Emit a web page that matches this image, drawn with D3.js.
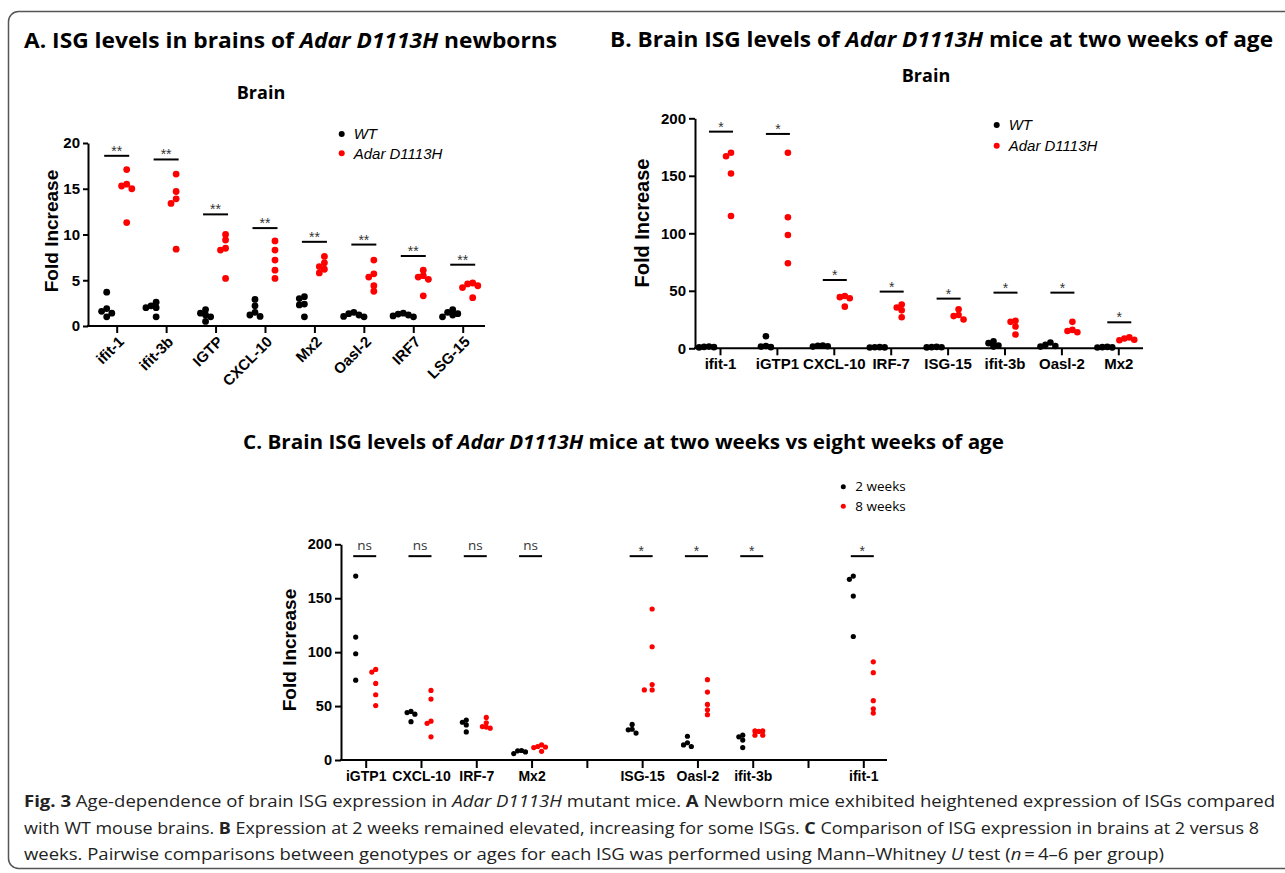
<!DOCTYPE html>
<html>
<head>
<meta charset="utf-8">
<script src="https://cdn.jsdelivr.net/npm/d3@7"></script>
<style>
  body { margin: 0; background: #fff; }
  svg text { font-family: "Liberation Sans", Arial, sans-serif; }
  .cal { font-family: "Open Sans", "Noto Sans", sans-serif !important; }
</style>
</head>
<body>
<svg id="fig" width="1285" height="873"></svg>
<script>
// ---- Panel A: newborn brains, WT vs Adar D1113H
var genesA = ["ifit-1", "ifit-3b", "IGTP", "CXCL-10", "Mx2", "Oasl-2", "IRF7", "LSG-15"];
var wtA = [
  [3.7, 1.9, 1.6, 1.4, 1.0],
  [2.6, 2.2, 2.0, 2.0, 1.0],
  [1.8, 1.4, 1.2, 1.0, 0.5],
  [2.9, 2.2, 1.5, 1.2, 1.05],
  [3.2, 3.0, 2.4, 2.3, 1.0],
  [1.5, 1.35, 1.2, 1.05, 1.0],
  [1.4, 1.3, 1.2, 1.1, 1.0],
  [1.8, 1.5, 1.35, 1.2, 1.0]
];
var mutA = [
  [17.1, 15.5, 15.3, 15.0, 11.3],
  [16.6, 14.7, 13.9, 13.4, 8.4],
  [10.0, 9.4, 8.5, 8.3, 5.2],
  [9.3, 8.3, 7.2, 6.1, 5.2],
  [7.6, 6.9, 6.5, 6.2, 5.8],
  [7.2, 5.7, 5.35, 4.4, 3.8],
  [6.1, 5.5, 5.35, 5.1, 3.3],
  [4.7, 4.6, 4.4, 4.2, 3.1]
];
var sigA = [18.6, 18.2, 12.2, 10.7, 9.2, 8.9, 7.65, 6.7];
var ticksA = [0, 5, 10, 15, 20];

// ---- Panel B: two weeks of age
var genesB = ["ifit-1", "iGTP1", "CXCL-10", "IRF-7", "ISG-15", "ifit-3b", "Oasl-2", "Mx2"];
var wtB = [
  [1.5, 1.2, 1.0, 0.8],
  [10.5, 2.0, 1.5, 1.0],
  [2.5, 2.2, 1.8, 1.5],
  [1.0, 0.9, 0.8, 0.7],
  [1.2, 1.0, 0.9, 0.8],
  [6.0, 4.5, 2.5, 1.5],
  [5.0, 3.0, 2.0, 1.5],
  [1.2, 1.0, 0.8, 0.7]
];
var mutB = [
  [170, 167, 152, 115],
  [170, 114, 98.5, 74],
  [45.5, 44.5, 43.5, 36.2],
  [38, 35.5, 33, 27],
  [34, 29, 28, 25],
  [24, 23, 19, 12],
  [23, 16, 15, 14],
  [9.5, 8.5, 7.5, 7.0]
];
var sigB = [188.4, 186.4, 59.4, 49.3, 43.2, 48.4, 48.4, 22.6];
var ticksB = [0, 50, 100, 150, 200];

// ---- Panel C: two weeks vs eight weeks ("" and " " are empty slots)
var genesC = ["iGTP1", "CXCL-10", "IRF-7", "Mx2", "", "ISG-15", "Oasl-2", "ifit-3b", " ", "ifit-1"];
var twoWkC = [
  [170.5, 114, 98.5, 74],
  [45, 44, 42.5, 35.5],
  [37, 35, 32.5, 26],
  [8.8, 8.5, 7.5, 6],
  [],
  [33, 28.5, 28, 25],
  [22, 16, 14, 12.5],
  [23, 21.5, 18.5, 11.5],
  [],
  [170.5, 167.5, 152, 114.5]
];
var eightWkC = [
  [84, 81.5, 71, 60.5, 50.5],
  [64.5, 56.5, 36, 34, 21.5],
  [39.5, 34.5, 31, 30.5, 29.5],
  [14, 12.5, 12, 11.5, 8],
  [],
  [140, 105, 70, 65, 65],
  [74.5, 63, 51.5, 46.5, 42],
  [27, 27, 26.5, 23, 23],
  [],
  [91, 81, 55, 47.5, 43.5]
];
var sigC = [189, 189, 189, 189, null, 189, 189, 189, null, 189];
var sigTextC = ["ns", "ns", "ns", "ns", "", "*", "*", "*", "", "*"];
var ticksC = [0, 50, 100, 150, 200];

var RED = "#ff0000";
var svg = d3.select("#fig");

// outer frame
svg.append("rect")
  .attr("x", 8.5).attr("y", 11.5)
  .attr("width", 1300).attr("height", 857)
  .attr("rx", 10)
  .attr("fill", "none").attr("stroke", "#555").attr("stroke-width", 1.5);

// spread points that sit on top of each other, like a column scatter
function dodge(vals, cx, y, r) {
  var placed = [], step = r * 1.5;
  vals.slice().sort((a, b) => b - a).forEach(function (v) {
    var py = y(v);
    var cands = [0, -1, 1, -2, 2, -3, 3];
    for (var i = 0; i < cands.length; i++) {
      var px = cx + cands[i] * step;
      if (placed.every(p => Math.hypot(p.x - px, p.y - py) >= step)) {
        placed.push({x: px, y: py});
        return;
      }
    }
    placed.push({x: cx, y: py});
  });
  return placed;
}

function panel(o) {
  var g = svg.append("g");
  var x = d3.scalePoint().domain(o.genes).range(o.xr);
  var y = d3.scaleLinear().domain([0, 200]).range(o.yr);
  if (o.ymax) y.domain([0, o.ymax]);

  // y axis
  var ya = g.append("g")
    .attr("transform", "translate(" + o.x0 + ",0)")
    .call(d3.axisLeft(y).tickValues(o.yticks).tickSize(o.ytick).tickSizeOuter(0));
  ya.select(".domain").attr("stroke-width", 2);
  ya.selectAll(".tick line").attr("stroke-width", 2);
  ya.selectAll("text").attr("font-size", o.yfs).attr("font-weight", "bold").attr("fill", "#000");

  // x axis
  var xa = g.append("g")
    .attr("transform", "translate(0," + o.yr[0] + ")")
    .call(d3.axisBottom(x).tickSize(o.xtick).tickSizeOuter(0).tickFormat(d => d.trim()));
  xa.select(".domain").remove();
  xa.selectAll(".tick line").attr("stroke-width", 2);
  xa.selectAll("text").attr("font-size", o.xfs).attr("font-weight", "bold").attr("fill", "#000");
  g.append("line")
    .attr("x1", o.x0 - 1).attr("x2", o.x1)
    .attr("y1", o.yr[0]).attr("y2", o.yr[0])
    .attr("stroke", "#000").attr("stroke-width", 2);

  if (o.rotate) {
    xa.selectAll("text")
      .attr("text-anchor", "end")
      .attr("x", 0).attr("y", 0).attr("dy", "0.35em")
      .attr("transform", "translate(4,13) rotate(-45)");
  }

  // axis title
  g.append("text")
    .attr("transform", "translate(" + o.titleX + "," + o.titleY + ") rotate(-90)")
    .attr("text-anchor", "middle").attr("dy", "0.35em")
    .attr("font-size", o.tfs).attr("font-weight", "bold")
    .text("Fold Increase");

  // points
  o.groups.forEach(function (grp) {
    grp.values.forEach(function (vals, i) {
      if (!vals.length) return;
      var pts = dodge(vals, x(o.genes[i]) + grp.dx, y, o.r);
      g.selectAll(null).data(pts).enter().append("circle")
        .attr("cx", d => d.x).attr("cy", d => d.y)
        .attr("r", o.r).attr("fill", grp.color);
    });
  });

  // significance bars
  o.sig.forEach(function (s, i) {
    if (s == null) return;
    var cx = x(o.genes[i]) + o.sigDx;
    g.append("line")
      .attr("x1", cx - o.sigW).attr("x2", cx + o.sigW)
      .attr("y1", y(s)).attr("y2", y(s))
      .attr("stroke", "#000").attr("stroke-width", 2);
    var lab = o.sigText[i];
    g.append("text")
      .attr("class", lab == "ns" ? "cal" : null)
      .attr("x", cx).attr("y", y(s) - (lab == "ns" ? 6 : 0))
      .attr("text-anchor", "middle")
      .attr("font-size", lab == "ns" ? 13.5 : 14)
      .attr("fill", "#333")
      .text(lab);
  });
  return g;
}

panel({
  genes: genesA, xr: [116.7, 462.7], yr: [326, 143], ymax: 20, x0: 88, x1: 485,
  yticks: ticksA, ytick: 5, xtick: 7, yfs: 15, xfs: 15, tfs: 19, rotate: true,
  titleX: 51, titleY: 231, r: 3.4,
  groups: [{values: wtA, color: "#000", dx: -10}, {values: mutA, color: RED, dx: 10}],
  sig: sigA, sigText: genesA.map(() => "**"), sigDx: 0, sigW: 12.5
});

panel({
  genes: genesB, xr: [720, 1118.3], yr: [348.3, 118.3], x0: 695, x1: 1143,
  yticks: ticksB, ytick: 6, xtick: 7, yfs: 15, xfs: 15, tfs: 20,
  titleX: 642, titleY: 223, r: 3.3,
  groups: [{values: wtB, color: "#000", dx: -11}, {values: mutB, color: RED, dx: 11}],
  sig: sigB, sigText: genesB.map(() => "*"), sigDx: 1, sigW: 12
});

panel({
  genes: genesC, xr: [365.7, 863.3], yr: [760, 544.3], x0: 341, x1: 887,
  yticks: ticksC, ytick: 6, xtick: 8, yfs: 14.5, xfs: 14, tfs: 19,
  titleX: 289, titleY: 650, r: 2.6,
  groups: [{values: twoWkC, color: "#000", dx: -10}, {values: eightWkC, color: RED, dx: 10}],
  sig: sigC, sigText: sigTextC, sigDx: -1, sigW: 11.5
});

// titles
function title(x, y, len, size, parts, anchor) {
  var t = svg.append("text").attr("class", "cal")
    .attr("x", x).attr("y", y)
    .attr("font-size", size).attr("font-weight", "bold")
    .attr("text-anchor", anchor || "start");
  if (len) t.attr("textLength", len).attr("lengthAdjust", "spacingAndGlyphs");
  parts.forEach(p => t.append("tspan").attr("font-style", p[1] ? "italic" : null).text(p[0]));
  return t;
}
title(24, 48, 533, 22, [["A. ISG levels in brains of "], ["Adar D1113H", 1], [" newborns"]]);
title(610, 47, 663, 22, [["B. Brain ISG levels of "], ["Adar D1113H", 1], [" mice at two weeks of age"]]);
title(243, 449, 761, 20, [["C. Brain ISG levels of "], ["Adar D1113H", 1], [" mice at two weeks vs eight weeks of age"]]);
title(261, 99, null, 18, [["Brain"]], "middle");
title(926, 82, null, 18, [["Brain"]], "middle");

// legends
function legend(x, ys, labels, colors, r, fs, italic, cls) {
  labels.forEach(function (l, i) {
    svg.append("circle").attr("cx", x).attr("cy", ys[i]).attr("r", r).attr("fill", colors[i]);
    svg.append("text").attr("class", cls)
      .attr("x", x + 12).attr("y", ys[i]).attr("dy", "0.35em")
      .attr("font-size", fs).attr("font-style", italic ? "italic" : null)
      .text(l);
  });
}
legend(341.7, [134, 153.3], ["WT", "Adar D1113H"], ["#000", RED], 3, 15, true);
legend(996.7, [125, 145.7], ["WT", "Adar D1113H"], ["#000", RED], 3, 15, true);
legend(843.3, [486.7, 506.3], ["2 weeks", "8 weeks"], ["#000", RED], 2.5, 13.5, false, "cal");

// caption
var caption = [
  [[["Fig. 3", "b"], ["  Age-dependence of brain ISG expression in "], ["Adar D1113H", "i"], [" mutant mice. "], ["A", "b"], [" Newborn mice exhibited heightened expression of ISGs compared"]], 1251],
  [[["with WT mouse brains. "], ["B", "b"], [" Expression at 2 weeks remained elevated, increasing for some ISGs. "], ["C", "b"], [" Comparison of ISG expression in brains at 2 versus 8"]], 1235],
  [[["weeks. Pairwise comparisons between genotypes or ages for each ISG was performed using Mann\u2013Whitney "], ["U", "i"], [" test ("], ["n", "i"], ["\u2009=\u20094\u20136 per group)"]], 1140]
];
caption.forEach(function (line, i) {
  var t = svg.append("text").attr("class", "cal")
    .attr("x", 24).attr("y", 807 + i * 26.5)
    .attr("font-size", 16).attr("fill", "#222")
    .attr("textLength", line[1]).attr("lengthAdjust", "spacingAndGlyphs");
  line[0].forEach(p => t.append("tspan")
    .attr("font-weight", p[1] == "b" ? "bold" : null)
    .attr("font-style", p[1] == "i" ? "italic" : null)
    .text(p[0]));
});
</script>
</body>
</html>
